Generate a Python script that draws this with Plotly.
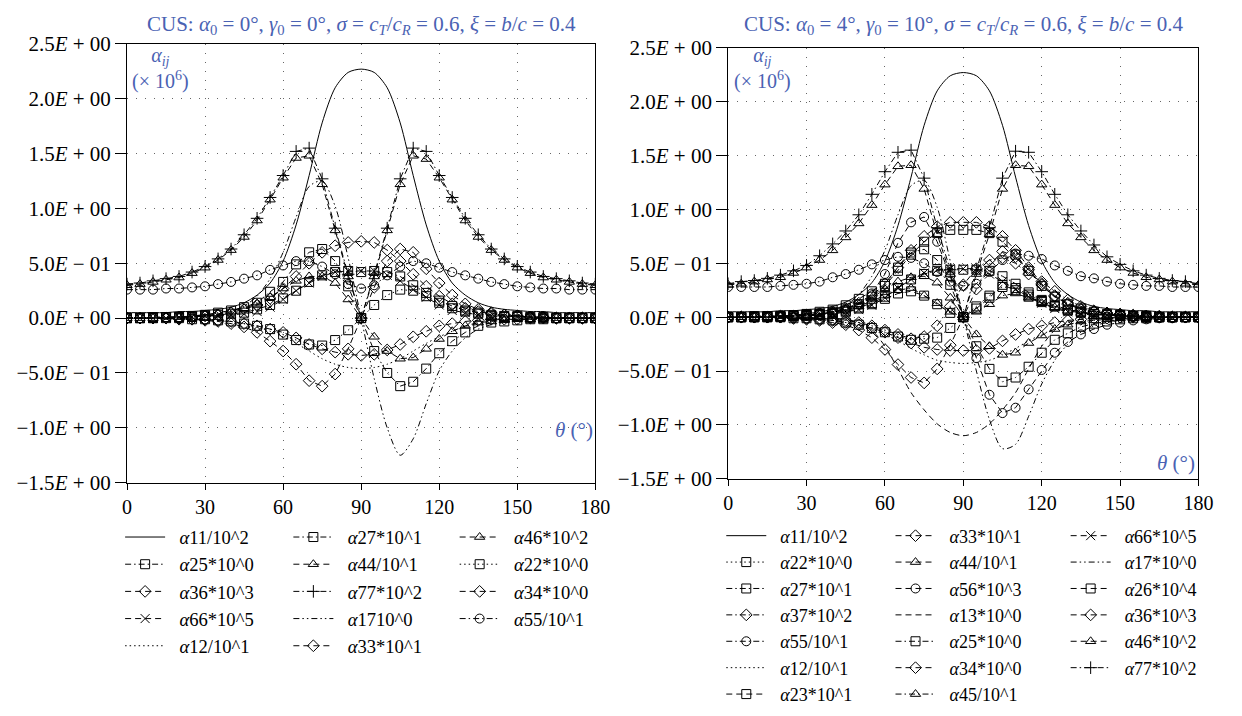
import plotly.graph_objects as go

# ---------------- data (theta in degrees, values x 10^6 scaled as labelled) -------------
theta = [0, 5, 10, 15, 20, 25, 30, 35, 40, 45, 50, 55, 60, 65, 70, 75, 80, 85, 90,
         95, 100, 105, 110, 115, 120, 125, 130, 135, 140, 145, 150, 155, 160, 165, 170, 175, 180]

y_tickvals = [-1.5, -1.0, -0.5, 0.0, 0.5, 1.0, 1.5, 2.0, 2.5]
y_ticktext = ["−1.5<i>E</i> + 00", "−1.0<i>E</i> + 00", "−5.0<i>E</i> − 01", "0.0<i>E</i> + 00",
              "5.0<i>E</i> − 01", "1.0<i>E</i> + 00", "1.5<i>E</i> + 00", "2.0<i>E</i> + 00", "2.5<i>E</i> + 00"]
x_tickvals = [0, 30, 60, 90, 120, 150, 180]

# left panel: alpha0 = 0, gamma0 = 0
L_a11 = [0.05,0.05,0.05,0.05,0.06,0.06,0.07,0.08,0.10,0.14,0.21,0.32,0.52,0.85,1.30,1.78,2.10,2.24,2.27,
         2.24,2.10,1.78,1.30,0.85,0.52,0.32,0.21,0.14,0.10,0.08,0.07,0.06,0.06,0.05,0.05,0.05,0.05]
L_a25 = [0,0,0,0.01,0.01,0.01,0.02,0.03,0.04,0.05,0.08,0.12,0.18,0.25,0.33,0.39,0.42,0.43,0.42,
         0.43,0.42,0.38,0.30,0.23,0.16,0.11,0.07,0.05,0.03,0.02,0.02,0.01,0.01,0,0,0,0]
L_a36 = [0,0,0,0,-0.01,-0.01,-0.02,-0.03,-0.05,-0.08,-0.13,-0.21,-0.30,-0.42,-0.57,-0.62,-0.51,-0.28,0.0,
         0.28,0.52,0.63,0.60,0.45,0.32,0.21,0.13,0.08,0.05,0.03,0.02,0.01,0.01,0,0,0,0]
L_a66 = [0,0,0,0,0.01,0.01,0.02,0.02,0.03,0.04,0.06,0.10,0.17,0.25,0.32,0.38,0.42,0.43,0.43,
         0.43,0.39,0.34,0.26,0.19,0.12,0.07,0.05,0.03,0.02,0.02,0.01,0.01,0,0,0,0,0]
L_a12 = [0,0,0,0,0,-0.01,-0.01,-0.02,-0.03,-0.05,-0.08,-0.12,-0.17,-0.23,-0.30,-0.37,-0.42,-0.45,-0.46,
         -0.45,-0.42,-0.37,-0.30,-0.23,-0.17,-0.12,-0.08,-0.05,-0.03,-0.02,-0.01,-0.01,0,0,0,0,0]
L_a27 = [0,0,0.01,0.01,0.01,0.02,0.03,0.05,0.07,0.10,0.14,0.24,0.33,0.49,0.60,0.63,0.52,0.29,0.0,
         -0.30,-0.50,-0.62,-0.58,-0.46,-0.32,-0.21,-0.13,-0.07,-0.04,-0.03,-0.02,-0.01,-0.01,0,0,0,0]
L_a44 = [0,0,0,0.01,0.01,0.02,0.03,0.04,0.06,0.09,0.13,0.19,0.27,0.34,0.38,0.38,0.32,0.17,0.0,
         -0.17,-0.30,-0.37,-0.36,-0.28,-0.19,-0.12,-0.07,-0.04,-0.03,-0.02,-0.01,-0.01,0,0,0,0,0]
L_a77 = [0.31,0.32,0.34,0.36,0.38,0.42,0.47,0.54,0.63,0.76,0.91,1.10,1.30,1.52,1.55,1.27,0.82,0.40,0.0,
         0.40,0.82,1.27,1.55,1.52,1.30,1.10,0.91,0.76,0.63,0.54,0.47,0.42,0.38,0.36,0.34,0.32,0.31]
L_a17 = [0,0,0,0,0,0.01,0.02,0.03,0.06,0.11,0.20,0.36,0.60,0.92,1.20,1.25,1.02,0.55,0.0,
         -0.55,-1.00,-1.25,-1.10,-0.78,-0.48,-0.30,-0.18,-0.10,-0.06,-0.04,-0.02,-0.01,-0.01,0,0,0,0]
L_a33 = [0,0,0,0,0,-0.01,-0.01,-0.02,-0.03,-0.05,-0.07,-0.10,-0.13,-0.18,-0.24,-0.28,-0.31,-0.33,-0.34,
         -0.33,-0.29,-0.24,-0.17,-0.12,-0.07,-0.05,-0.03,-0.02,-0.01,-0.01,-0.01,0,0,0,0,0,0]
L_a46 = [0.30,0.31,0.33,0.35,0.37,0.41,0.46,0.53,0.62,0.74,0.89,1.08,1.28,1.46,1.48,1.22,0.80,0.38,0.0,
         0.38,0.80,1.22,1.48,1.45,1.28,1.08,0.89,0.74,0.62,0.53,0.46,0.41,0.37,0.35,0.33,0.31,0.30]
L_a22 = [0,0,0,0,0,-0.01,-0.01,-0.02,-0.03,-0.05,-0.07,-0.10,-0.15,-0.20,-0.24,-0.25,-0.20,-0.11,0.0,
         0.12,0.21,0.26,0.25,0.20,0.14,0.09,0.06,0.04,0.02,0.01,0.01,0,0,0,0,0,0]
L_a34 = [0,0,0,0,0.01,0.01,0.02,0.03,0.05,0.08,0.12,0.18,0.27,0.38,0.50,0.60,0.66,0.69,0.70,
         0.69,0.62,0.52,0.40,0.29,0.20,0.13,0.09,0.06,0.04,0.03,0.02,0.01,0.01,0,0,0,0]
L_a55 = [0.26,0.26,0.26,0.27,0.27,0.28,0.29,0.31,0.33,0.36,0.39,0.44,0.48,0.52,0.52,0.47,0.40,0.31,0.27,
         0.30,0.39,0.47,0.52,0.50,0.46,0.42,0.39,0.36,0.33,0.31,0.29,0.28,0.27,0.27,0.26,0.26,0.26]

# right panel: alpha0 = 4, gamma0 = 10
R_a11 = [0.05,0.05,0.05,0.05,0.06,0.06,0.07,0.08,0.10,0.14,0.21,0.32,0.52,0.85,1.30,1.78,2.10,2.24,2.27,
         2.24,2.10,1.78,1.30,0.85,0.52,0.32,0.21,0.14,0.10,0.08,0.07,0.06,0.06,0.05,0.05,0.05,0.05]
R_a22 = [0,0,0,0,0,-0.01,-0.01,-0.02,-0.03,-0.05,-0.07,-0.10,-0.14,-0.18,-0.21,-0.20,-0.19,-0.10,0.0,
         0.10,0.20,0.28,0.27,0.21,0.15,0.10,0.06,0.04,0.03,0.02,0.01,0.01,0,0,0,0,0]
R_a27 = [0,0,0.01,0.01,0.01,0.02,0.03,0.05,0.07,0.11,0.17,0.24,0.31,0.46,0.60,0.63,0.53,0.30,0.0,
         -0.27,-0.48,-0.60,-0.56,-0.46,-0.33,-0.21,-0.15,-0.09,-0.06,-0.04,-0.02,-0.01,-0.01,0,0,0,0]
R_a37 = [0,0,0,0,0,0,-0.01,-0.01,-0.02,-0.03,-0.05,-0.08,-0.12,-0.16,-0.20,-0.18,-0.08,0.10,0.30,
         0.45,0.53,0.55,0.50,0.40,0.33,0.24,0.16,0.10,0.06,0.04,0.03,0.02,0.01,0.01,0,0,0]
R_a55 = [0.28,0.28,0.28,0.28,0.29,0.30,0.31,0.33,0.37,0.40,0.44,0.49,0.53,0.56,0.55,0.50,0.42,0.33,0.29,
         0.31,0.42,0.53,0.59,0.57,0.54,0.48,0.43,0.38,0.36,0.33,0.31,0.30,0.29,0.29,0.28,0.28,0.28]
R_a12 = [0,0,0,0,0,-0.01,-0.01,-0.02,-0.03,-0.05,-0.07,-0.11,-0.16,-0.22,-0.29,-0.35,-0.40,-0.42,-0.43,
         -0.42,-0.40,-0.35,-0.29,-0.22,-0.16,-0.11,-0.07,-0.05,-0.03,-0.02,-0.01,-0.01,0,0,0,0,0]
R_a23 = [0,0,0,0,0,0.01,0.01,0.02,0.03,0.05,0.08,0.12,0.17,0.22,0.24,0.20,0.12,0.04,0.0,
         0.08,0.18,0.30,0.25,0.19,0.14,0.10,0.07,0.05,0.03,0.02,0.01,0.01,0,0,0,0,0]
R_a33 = [0,0,0,0,0,-0.01,-0.01,-0.02,-0.03,-0.05,-0.07,-0.10,-0.14,-0.19,-0.24,-0.28,-0.30,-0.31,-0.31,
         -0.31,-0.29,-0.22,-0.16,-0.11,-0.08,-0.05,-0.03,-0.02,-0.01,-0.01,0,0,0,0,0,0,0]
R_a44 = [0,0,0,0,0.01,0.01,0.02,0.03,0.05,0.08,0.12,0.18,0.26,0.33,0.37,0.38,0.32,0.18,0.0,
         -0.16,-0.27,-0.35,-0.33,-0.24,-0.17,-0.11,-0.07,-0.04,-0.03,-0.02,-0.01,-0.01,0,0,0,0,0]
R_a56 = [0,0,0,0,0.01,0.01,0.02,0.03,0.04,0.07,0.12,0.22,0.40,0.69,0.88,0.93,0.70,0.38,0.0,
         -0.38,-0.72,-0.89,-0.84,-0.67,-0.49,-0.33,-0.23,-0.16,-0.11,-0.07,-0.05,-0.03,-0.02,-0.01,-0.01,0,0]
R_a13 = [0,0,0,0,0,0,0,-0.01,-0.01,-0.02,-0.05,-0.12,-0.27,-0.48,-0.70,-0.86,-0.99,-1.07,-1.10,
         -1.07,-0.99,-0.86,-0.70,-0.48,-0.27,-0.12,-0.05,-0.02,-0.01,-0.01,0,0,0,0,0,0,0]
R_a25 = [0,0,0,0.01,0.01,0.01,0.02,0.03,0.04,0.06,0.09,0.13,0.19,0.27,0.35,0.40,0.43,0.44,0.44,
         0.44,0.43,0.38,0.31,0.23,0.16,0.11,0.07,0.05,0.03,0.02,0.02,0.01,0.01,0,0,0,0]
R_a34 = [0,0,0,0,0.01,0.01,0.02,0.03,0.05,0.08,0.13,0.20,0.31,0.46,0.62,0.75,0.84,0.88,0.88,
         0.88,0.84,0.75,0.62,0.46,0.31,0.20,0.13,0.08,0.05,0.03,0.02,0.01,0.01,0,0,0,0]
R_a45 = [0,0,0,0,0.01,0.01,0.02,0.03,0.05,0.07,0.10,0.15,0.20,0.25,0.27,0.20,0.13,0.05,0.0,
         0.05,0.12,0.20,0.22,0.18,0.13,0.09,0.06,0.04,0.03,0.02,0.01,0.01,0,0,0,0,0]
R_a66 = [0,0,0,0,0.01,0.01,0.02,0.02,0.03,0.05,0.07,0.11,0.18,0.27,0.35,0.41,0.44,0.45,0.45,
         0.45,0.40,0.33,0.26,0.19,0.13,0.08,0.05,0.03,0.02,0.02,0.01,0.01,0,0,0,0,0]
R_a17 = [0,0,0,0,0,0.01,0.02,0.03,0.06,0.11,0.21,0.38,0.62,0.95,1.22,1.27,1.02,0.52,0.0,
         -0.50,-0.95,-1.22,-1.18,-0.92,-0.62,-0.40,-0.25,-0.14,-0.08,-0.05,-0.03,-0.02,-0.01,-0.01,0,0,0]
R_a26 = [0,0,0,0,0.01,0.01,0.02,0.03,0.05,0.08,0.12,0.19,0.29,0.43,0.58,0.70,0.78,0.81,0.81,
         0.81,0.78,0.70,0.58,0.43,0.29,0.19,0.12,0.08,0.05,0.03,0.02,0.01,0.01,0,0,0,0]
R_a36 = [0,0,0,0,0,-0.01,-0.02,-0.03,-0.05,-0.07,-0.12,-0.19,-0.30,-0.44,-0.56,-0.61,-0.48,-0.26,0.0,
         0.26,0.48,0.61,0.56,0.44,0.30,0.19,0.12,0.07,0.05,0.03,0.02,0.01,0,0,0,0,0]
R_a46 = [0.30,0.31,0.33,0.35,0.37,0.41,0.46,0.53,0.62,0.74,0.87,1.04,1.23,1.40,1.41,1.19,0.77,0.40,0.0,
         0.40,0.77,1.19,1.41,1.40,1.23,1.04,0.87,0.74,0.62,0.53,0.46,0.41,0.37,0.35,0.33,0.31,0.30]
R_a77 = [0.31,0.33,0.34,0.36,0.39,0.43,0.48,0.57,0.68,0.80,0.95,1.14,1.35,1.53,1.55,1.29,0.83,0.44,0.0,
         0.44,0.83,1.29,1.54,1.53,1.35,1.14,0.95,0.80,0.67,0.56,0.49,0.43,0.39,0.36,0.34,0.33,0.31]

# ---------------- styles -------------------------------------------------------------
W, H = 1242, 716
SERIF = "Liberation Serif, Times New Roman, serif"
BLUE = "#4a62b3"
SOLID = "solid"
DASH = "6px,4px"
DOT = "1.5px,3px"
DASHDOT = "6px,3px,1.5px,3px"
DASHDOTDOT = "6px,3px,1.5px,3px,1.5px,3px"

SQ, TRI, DIA, CIR = "square-open", "triangle-up-open", "diamond-open", "circle-open"
XM, PL = "x-thin-open", "cross-thin-open"


def fx(px):
    return px / W


def fy(py):
    return 1 - py / H


fig = go.Figure()


def add(y, name, legend, dash, symbol, axes):
    xa, ya = axes
    if symbol is None:
        fig.add_trace(go.Scatter(
            x=theta, y=y, name=name, legend=legend, xaxis=xa, yaxis=ya, mode="lines",
            line=dict(color="black", width=1, dash=dash, shape="spline", smoothing=0.8)))
    else:
        fig.add_trace(go.Scatter(
            x=theta, y=y, name=name, legend=legend, xaxis=xa, yaxis=ya, mode="lines+markers",
            line=dict(color="black", width=1, dash=dash),
            marker=dict(symbol=symbol, size=9, color="black",
                        line=dict(color="black", width=1))))


def nm(s):
    return "\u00a0\u00a0<i>α</i>" + s


LA = ("x", "y")
RA = ("x2", "y2")

# left legend, column by column (reference is laid out row-wise in 3 columns)
add(L_a11, nm("11/10^2"), "legend", SOLID, None, LA)
add(L_a25, nm("25*10^0"), "legend", DASHDOT, SQ, LA)
add(L_a36, nm("36*10^3"), "legend", DASH, DIA, LA)
add(L_a66, nm("66*10^5"), "legend", DASH, XM, LA)
add(L_a12, nm("12/10^1"), "legend", DOT, None, LA)

add(L_a27, nm("27*10^1"), "legend2", DASHDOT, SQ, LA)
add(L_a44, nm("44/10^1"), "legend2", DASH, TRI, LA)
add(L_a77, nm("77*10^2"), "legend2", DASHDOT, PL, LA)
add(L_a17, nm("1710^0"), "legend2", DASHDOTDOT, None, LA)
add(L_a33, nm("33*10^1"), "legend2", DASH, DIA, LA)

add(L_a46, nm("46*10^2"), "legend3", DASH, TRI, LA)
add(L_a22, nm("22*10^0"), "legend3", DOT, SQ, LA)
add(L_a34, nm("34*10^0"), "legend3", DASH, DIA, LA)
add(L_a55, nm("55/10^1"), "legend3", DASHDOT, CIR, LA)

# right legend
add(R_a11, nm("11/10^2"), "legend4", SOLID, None, RA)
add(R_a22, nm("22*10^0"), "legend4", DOT, SQ, RA)
add(R_a27, nm("27*10^1"), "legend4", DASHDOT, SQ, RA)
add(R_a37, nm("37*10^2"), "legend4", DASHDOT, DIA, RA)
add(R_a55, nm("55/10^1"), "legend4", DASHDOT, CIR, RA)
add(R_a12, nm("12/10^1"), "legend4", DOT, None, RA)
add(R_a23, nm("23*10^1"), "legend4", DASH, SQ, RA)

add(R_a33, nm("33*10^1"), "legend5", DASH, DIA, RA)
add(R_a44, nm("44/10^1"), "legend5", DASH, TRI, RA)
add(R_a56, nm("56*10^3"), "legend5", DASH, CIR, RA)
add(R_a13, nm("13*10^0"), "legend5", DASH, None, RA)
add(R_a25, nm("25*10^0"), "legend5", DASHDOT, SQ, RA)
add(R_a34, nm("34*10^0"), "legend5", DASH, DIA, RA)
add(R_a45, nm("45/10^1"), "legend5", DASHDOT, TRI, RA)

add(R_a66, nm("66*10^5"), "legend6", DASH, XM, RA)
add(R_a17, nm("17*10^0"), "legend6", DASHDOTDOT, None, RA)
add(R_a26, nm("26*10^4"), "legend6", DASH, SQ, RA)
add(R_a36, nm("36*10^3"), "legend6", DASH, DIA, RA)
add(R_a46, nm("46*10^2"), "legend6", DASH, TRI, RA)
add(R_a77, nm("77*10^2"), "legend6", DASHDOT, PL, RA)

# ---------------- axes -------------------------------------------------------------
common_x = dict(range=[0, 180], tickvals=x_tickvals, showgrid=True, gridcolor="#666666",
                gridwidth=1.2, griddash="1px,8px", showline=True, mirror=True,
                linecolor="black", linewidth=1, ticks="outside", ticklen=6,
                tickcolor="black", zeroline=False,
                tickfont=dict(family=SERIF, size=20, color="black"))
common_y = dict(range=[-1.5, 2.5], tickvals=y_tickvals, ticktext=y_ticktext, showgrid=True,
                gridcolor="#666666", gridwidth=1.2, griddash="1px,8px", showline=True,
                mirror=True, linecolor="black", linewidth=1, ticks="outside", ticklen=11,
                tickcolor="black", zeroline=False,
                tickfont=dict(family=SERIF, size=21, color="black"))

fig.update_layout(
    xaxis=dict(domain=[fx(124), fx(600)], anchor="y", **common_x),
    yaxis=dict(domain=[fy(487), fy(33)], anchor="x", **common_y),
    xaxis2=dict(domain=[fx(735), fx(1213)], anchor="y2", **common_x),
    yaxis2=dict(domain=[fy(483), fy(37)], anchor="x2", **common_y),
)


def leg(xpx, ypx, size):
    return dict(x=fx(xpx), y=fy(ypx), xanchor="left", yanchor="top", orientation="v",
                bgcolor="rgba(0,0,0,0)", borderwidth=0, itemwidth=40,
                traceorder="normal", tracegroupgap=0,
                font=dict(family=SERIF, size=size, color="black"))


fig.update_layout(
    legend=leg(117, 524, 18.6), legend2=leg(288, 524, 18.6), legend3=leg(457, 524, 18.6),
    legend4=leg(728, 523, 18), legend5=leg(900, 523, 18), legend6=leg(1078, 523, 18),
)

# ---------------- text annotations ------------------------------------------------------
ann = []
titles = [
    (362, "CUS: <i>α</i><sub>0</sub> = 0°, <i>γ</i><sub>0</sub> = 0°, <i>σ</i> = <i>c<sub>T</sub></i>/<i>c<sub>R</sub></i> = 0.6, <i>ξ</i> = <i>b</i>/<i>c</i> = 0.4"),
    (975, "CUS: <i>α</i><sub>0</sub> = 4°, <i>γ</i><sub>0</sub> = 10°, <i>σ</i> = <i>c<sub>T</sub></i>/<i>c<sub>R</sub></i> = 0.6, <i>ξ</i> = <i>b</i>/<i>c</i> = 0.4"),
]
for xc, t in titles:
    ann.append(dict(x=fx(xc), y=fy(13), xref="paper", yref="paper", text=t, showarrow=False,
                    xanchor="center", yanchor="middle",
                    font=dict(family=SERIF, size=21, color=BLUE)))
for xc in (158, 770):
    ann.append(dict(x=fx(xc), y=fy(58), xref="paper", yref="paper",
                    text="<i>α<sub>ij</sub></i><br>(× 10<sup>6</sup>)", showarrow=False,
                    xanchor="center", yanchor="middle", align="center",
                    font=dict(family=SERIF, size=20, color=BLUE)))
for xc, yc in ((578, 432), (1190, 467)):
    ann.append(dict(x=fx(xc), y=fy(yc), xref="paper", yref="paper",
                    text="<i>θ</i> (°)", showarrow=False, xanchor="center", yanchor="middle",
                    font=dict(family=SERIF, size=21, color=BLUE)))

fig.update_layout(
    width=W, height=H, margin=dict(l=0, r=0, t=0, b=0),
    paper_bgcolor="white", plot_bgcolor="white",
    annotations=ann, hovermode=False,
    font=dict(family=SERIF, color="black"),
)

fig.write_html("out.html")
